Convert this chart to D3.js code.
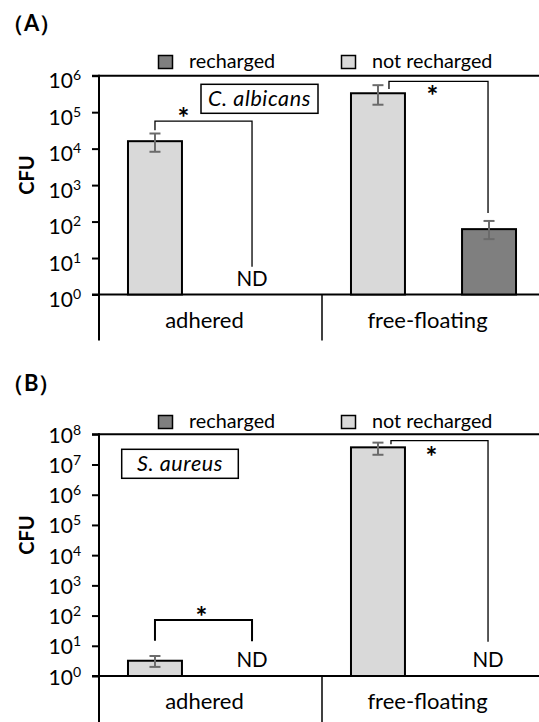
<!DOCTYPE html>
<html>
<head>
<meta charset="utf-8">
<script src="https://cdn.jsdelivr.net/npm/d3@7"></script>
<style>
  html, body { margin: 0; padding: 0; background: #fff; }
  svg { display: block; }
  text { font-family: Lato, "Open Sans", sans-serif; fill: #000; }
</style>
</head>
<body>
<svg id="chart" width="539" height="722"></svg>
<script>
// ---- data -------------------------------------------------------------
const categories = ["adhered", "free-floating"];
const barOrder = ["not recharged", "recharged"];
const legendOrder = ["recharged", "not recharged"];

// (A) C. albicans, CFU
const albicansNotRecharged     = [1.6e4, 3.3e5];
const albicansNotRechargedLow  = [8.2e3, 1.6e5];
const albicansNotRechargedHigh = [2.6e4, 5.5e5];
const albicansRecharged        = [null, 62];      // null = not detected
const albicansRechargedLow     = [null, 33];
const albicansRechargedHigh    = [null, 104];
const albicansExponents        = [0, 1, 2, 3, 4, 5, 6];

// (B) S. aureus, CFU
const aureusNotRecharged     = [3.2, 3.7e7];
const aureusNotRechargedLow  = [2.0, 2.1e7];
const aureusNotRechargedHigh = [4.6, 5.3e7];
const aureusRecharged        = [null, null];
const aureusRechargedLow     = [null, null];
const aureusRechargedHigh    = [null, null];
const aureusExponents        = [0, 1, 2, 3, 4, 5, 6, 7, 8];

// significance brackets, in CFU units: bracket top and the two leg ends
const albicansBrackets = [
  { cat: "adhered",       top: 5.7e4, leftEnd: 3.2e4, rightEnd: 5.8 },
  { cat: "free-floating", top: 7.0e5, leftEnd: 4.3e5, rightEnd: 172 }
];
const aureusBrackets = [
  { cat: "adhered",       top: 71,    leftEnd: 14.7,  rightEnd: 14.1 },
  { cat: "free-floating", top: 6.2e7, leftEnd: 4.7e7, rightEnd: 13.7 }
];

// ---- layout -----------------------------------------------------------
const colors = { "recharged": "#7f7f7f", "not recharged": "#d9d9d9" };
const errColor = "#6b6b6b";
const svg = d3.select("#chart");

const panels = [
  {
    tag: "（A）", organism: "C. albicans", offset: 0,
    top: 75.7, base: 294.5, exps: albicansExponents, labelShift: 4,
    series: {
      "not recharged": [albicansNotRecharged, albicansNotRechargedLow, albicansNotRechargedHigh],
      "recharged": [albicansRecharged, albicansRechargedLow, albicansRechargedHigh]
    },
    brackets: albicansBrackets,
    bracketStyle: [
      { legDx: 0, starDx: -20, starDy: -8, width: 1.3 },
      { legDx: 11, starDx: -6, starDy: 9.5, width: 1.3 }
    ],
    box: { x0: 201, x1: 318, y0: 84.3, y1: 113.3 }
  },
  {
    tag: "（B）", organism: "S. aureus", offset: 360,
    top: 434.3, base: 676, exps: aureusExponents, labelShift: 0,
    series: {
      "not recharged": [aureusNotRecharged, aureusNotRechargedLow, aureusNotRechargedHigh],
      "recharged": [aureusRecharged, aureusRechargedLow, aureusRechargedHigh]
    },
    brackets: aureusBrackets,
    bracketStyle: [
      { legDx: 0, starDx: -2, starDy: -8, width: 2 },
      { legDx: 13, starDx: -8, starDy: 11, width: 1.3 }
    ],
    box: { x0: 121.7, x1: 238.3, y0: 449.3, y1: 478.3 }
  }
];

const axisX = 99, rightX = 545;
// not-detected markers sit a little left of the empty slot in "adhered"
const ndNudge = { "adhered": -14, "free-floating": -1 };

const x0 = d3.scaleBand().domain(categories).range([axisX, rightX]).padding(0);
const x1 = d3.scaleBand().domain(barOrder).range([0, x0.bandwidth()])
  .paddingInner(0.514).paddingOuter(0.261);

panels.forEach(p => {
  const g = svg.append("g");
  const maxExp = d3.max(p.exps);
  const y = d3.scaleLog().domain([1, Math.pow(10, maxExp)]).range([p.base, p.top]);

  // panel tag
  g.append("text").attr("x", 2).attr("y", 31 + p.offset)
    .attr("font-size", 22).attr("font-weight", "bold")
    .attr("font-family", "'Noto Sans CJK JP', Lato, sans-serif")
    .text(p.tag);

  // legend
  const legX = [158, 341];
  legendOrder.forEach((s, i) => {
    g.append("rect").attr("x", legX[i] + 0.5).attr("y", 55.5 + p.offset)
      .attr("width", 14).attr("height", 13)
      .attr("fill", colors[s]).attr("stroke", "#000").attr("stroke-width", 1.5);
    g.append("text").attr("x", legX[i] + 31).attr("y", 68 + p.offset)
      .attr("font-size", 19.8).text(s);
  });

  // y axis with decade labels
  const axis = d3.axisLeft(y)
    .tickValues(p.exps.map(e => Math.pow(10, e)))
    .tickSize(7).tickPadding(11).tickFormat(() => "");
  const ag = g.append("g").attr("transform", `translate(${axisX},0)`).call(axis);
  ag.select(".domain").remove();
  ag.selectAll(".tick line").attr("stroke", "#000").attr("stroke-width", 2);
  ag.selectAll(".tick text").each(function(d) {
    const t = d3.select(this)
      .attr("font-size", 21).attr("font-family", "Lato, 'Open Sans', sans-serif")
      .attr("fill", "#000").attr("dy", null)
      .attr("y", p.labelShift + 8);
    t.text("10");
    t.append("tspan").attr("font-size", 14).attr("dy", -8)
      .text(Math.round(Math.log10(d)));
  });

  // frame lines
  g.append("line").attr("x1", axisX).attr("x2", axisX)
    .attr("y1", p.top - 1).attr("y2", p.base + 46)
    .attr("stroke", "#000").attr("stroke-width", 2);
  g.append("line").attr("x1", 92).attr("x2", 539)
    .attr("y1", p.top).attr("y2", p.top)
    .attr("stroke", "#000").attr("stroke-width", 2);
  g.append("line").attr("x1", 92).attr("x2", 539)
    .attr("y1", p.base).attr("y2", p.base)
    .attr("stroke", "#000").attr("stroke-width", 2);
  g.append("line").attr("x1", x0("free-floating")).attr("x2", x0("free-floating"))
    .attr("y1", p.base).attr("y2", p.base + 46)
    .attr("stroke", "#000").attr("stroke-width", 1.5);

  // category labels
  categories.forEach(c => {
    g.append("text").attr("x", x0(c) + x0.bandwidth() / 2 - 6).attr("y", p.base + 33)
      .attr("text-anchor", "middle").attr("font-size", 22).text(c);
  });

  // y title
  g.append("text")
    .attr("transform", `translate(34,${175 + p.offset}) rotate(-90)`)
    .attr("text-anchor", "middle").attr("font-size", 20).attr("font-weight", "bold")
    .text("CFU");

  // bars, error bars, ND markers
  barOrder.forEach(s => {
    const [vals, lows, highs] = p.series[s];
    categories.forEach((c, i) => {
      const bx = x0(c) + x1(s);
      const cx = bx + x1.bandwidth() / 2;
      const v = vals[i];
      if (v == null) {
        g.append("text").attr("x", cx + ndNudge[c]).attr("y", p.base - 9)
          .attr("text-anchor", "middle").attr("font-size", 20.5).text("ND");
        return;
      }
      g.append("rect").attr("x", bx).attr("y", y(v))
        .attr("width", x1.bandwidth()).attr("height", p.base - y(v))
        .attr("fill", colors[s]).attr("stroke", "#000").attr("stroke-width", 2);
      const lo = y(lows[i]), hi = y(highs[i]);
      g.append("line").attr("x1", cx).attr("x2", cx).attr("y1", lo).attr("y2", hi)
        .attr("stroke", errColor).attr("stroke-width", 2);
      [lo, hi].forEach(yy => g.append("line")
        .attr("x1", cx - 5.5).attr("x2", cx + 5.5).attr("y1", yy).attr("y2", yy)
        .attr("stroke", errColor).attr("stroke-width", 2));
    });
  });

  // significance brackets
  p.brackets.forEach((b, i) => {
    const st = p.bracketStyle[i];
    const lx = x0(b.cat) + x1("not recharged") + x1.bandwidth() / 2 + st.legDx;
    const rx = x0(b.cat) + x1("recharged") + x1.bandwidth() / 2 + ndNudge[b.cat];
    const ty = y(b.top);
    g.append("path")
      .attr("d", `M${lx},${y(b.leftEnd)}V${ty}H${rx}V${y(b.rightEnd)}`)
      .attr("fill", "none").attr("stroke", "#000").attr("stroke-width", st.width);
    g.append("text").attr("x", (lx + rx) / 2 + st.starDx).attr("y", ty + st.starDy + 15)
      .attr("text-anchor", "middle").attr("font-size", 28).attr("font-weight", "bold")
      .attr("font-family", "'Open Sans', sans-serif")
      .text("*");
  });

  // organism box
  const bx = p.box;
  g.append("rect").attr("x", bx.x0).attr("y", bx.y0)
    .attr("width", bx.x1 - bx.x0).attr("height", bx.y1 - bx.y0)
    .attr("fill", "#fff").attr("stroke", "#000").attr("stroke-width", 1.5);
  g.append("text").attr("x", (bx.x0 + bx.x1) / 2).attr("y", (bx.y0 + bx.y1) / 2 + 7)
    .attr("text-anchor", "middle")
    .attr("font-size", 21.5).attr("font-style", "italic").attr("letter-spacing", 0.6)
    .text(p.organism);
});
</script>
</body>
</html>
